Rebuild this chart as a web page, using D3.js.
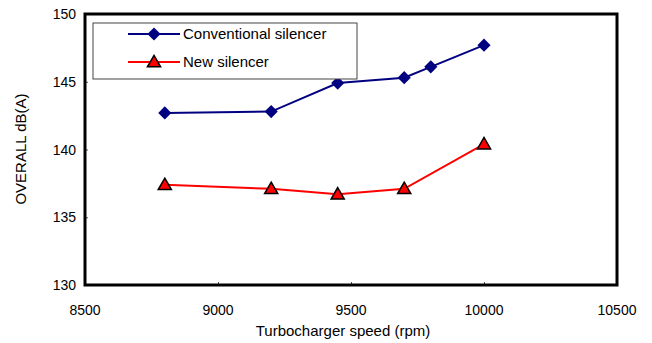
<!DOCTYPE html>
<html><head><meta charset="utf-8">
<script src="https://cdn.jsdelivr.net/npm/d3@7"></script>
<style>body{margin:0;background:#fff;}svg{display:block;font-family:Arial,"Liberation Sans",sans-serif;}</style>
</head><body>
<script>
const speedConv = [8800, 9200, 9450, 9700, 9800, 10000];
const conventional = [142.7, 142.8, 144.9, 145.3, 146.1, 147.7];
const speedNew = [8800, 9200, 9450, 9700, 10000];
const newSilencer = [137.4, 137.1, 136.7, 137.1, 140.4];
const xTicks = [8500, 9000, 9500, 10000, 10500];
const yTicks = [130, 135, 140, 145, 150];
const seriesNames = ["Conventional silencer", "New silencer"];

const W = 652, H = 343;
const L = 85, R = 617, T = 14, B = 285;
const svg = d3.select("body").append("svg").attr("width", W).attr("height", H);
const x = d3.scaleLinear().domain([8500, 10500]).range([L, R]);
const y = d3.scaleLinear().domain([130, 150]).range([B, T]);

// ticks (inward)
svg.append("g").attr("transform", `translate(0,${B})`)
  .call(d3.axisTop(x).tickValues(xTicks).tickSize(3).tickFormat(""))
  .call(g => g.select(".domain").remove())
  .call(g => g.selectAll("line").attr("stroke", "#555"));
svg.append("g").attr("transform", `translate(${L},0)`)
  .call(d3.axisRight(y).tickValues(yTicks).tickSize(3).tickFormat(""))
  .call(g => g.select(".domain").remove())
  .call(g => g.selectAll("line").attr("stroke", "#555"));

// tick labels
svg.append("g").selectAll("text").data(xTicks).join("text")
  .attr("x", d => x(d)).attr("y", 315).attr("text-anchor", "middle")
  .attr("font-size", 14).attr("fill", "#000").text(d => d);
svg.append("g").selectAll("text").data(yTicks).join("text")
  .attr("x", 76).attr("y", d => y(d) + 5).attr("text-anchor", "end")
  .attr("font-size", 14).attr("fill", "#000").text(d => d);

// frame
svg.append("rect").attr("x", L).attr("y", T).attr("width", R - L).attr("height", B - T)
  .attr("fill", "none").attr("stroke", "#000").attr("stroke-width", 3);

// axis titles
svg.append("text").attr("x", 343).attr("y", 336).attr("text-anchor", "middle")
  .attr("font-size", 15).text("Turbocharger speed (rpm)");
svg.append("text").attr("transform", "translate(26,149) rotate(-90)")
  .attr("text-anchor", "middle").attr("font-size", 15).text("OVERALL dB(A)");

const line = d3.line().x(d => x(d[0])).y(d => y(d[1]));
const convData = speedConv.map((s, i) => [s, conventional[i]]);
const newData = speedNew.map((s, i) => [s, newSilencer[i]]);

const diamond = d3.symbol().type(d3.symbolDiamond2).size(110);
const tri = d3.symbol().type(d3.symbolTriangle).size(75);

function drawSeries(data, color, isTri) {
  svg.append("path").datum(data).attr("d", line).attr("fill", "none")
    .attr("stroke", color).attr("stroke-width", 2);
  svg.append("g").selectAll("path").data(data).join("path")
    .attr("transform", d => `translate(${x(d[0])},${y(d[1]) + (isTri ? 1 : 0)})`)
    .attr("d", isTri ? tri : diamond)
    .attr("fill", isTri ? "#ff0000" : "#000080")
    .attr("stroke", isTri ? "#000" : "none").attr("stroke-width", 1.5);
}
drawSeries(convData, "#000080", false);
drawSeries(newData, "#ff0000", true);

// legend
svg.append("rect").attr("x", 93).attr("y", 23).attr("width", 264).attr("height", 56)
  .attr("fill", "#fff").attr("stroke", "#444").attr("stroke-width", 1);
const leg = [[34, "#000080", false], [62, "#ff0000", true]];
leg.forEach((l, i) => {
  svg.append("line").attr("x1", 128).attr("x2", 180).attr("y1", l[0]).attr("y2", l[0])
    .attr("stroke", l[1]).attr("stroke-width", 2);
  svg.append("path").attr("transform", `translate(154,${l[0] + (l[2] ? 1 : 0)})`)
    .attr("d", l[2] ? tri : diamond)
    .attr("fill", l[2] ? "#ff0000" : "#000080")
    .attr("stroke", l[2] ? "#000" : "none").attr("stroke-width", 1.5);
  svg.append("text").attr("x", 183).attr("y", l[0] + 5).attr("font-size", 15)
    .text(seriesNames[i]);
});
</script>
</body></html>
